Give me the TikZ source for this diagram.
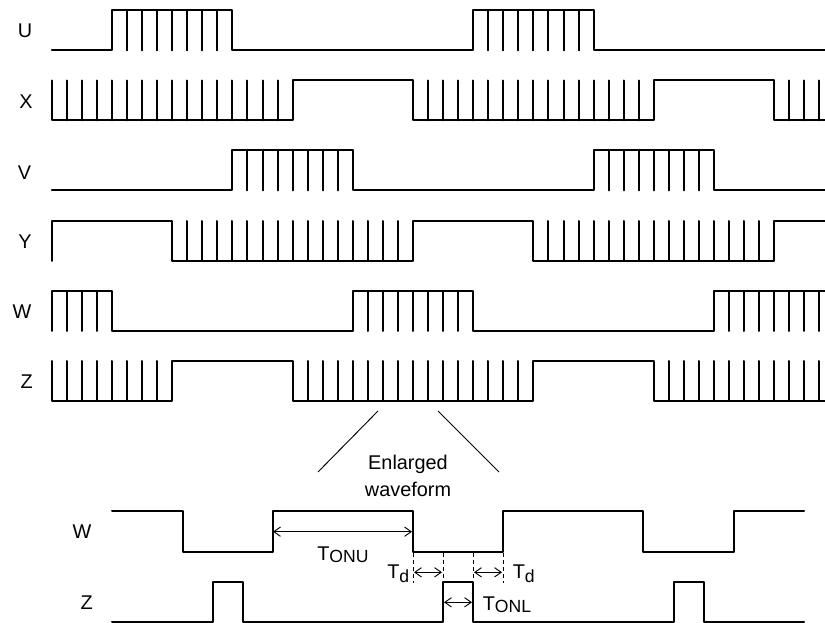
\documentclass[tikz,border=0pt]{standalone}
\usepackage{fontspec}
\setmainfont{Liberation Sans}
\usetikzlibrary{arrows.meta}
\newcommand{\tcks}[3]{\foreach \i in {#1} {\draw[wave] (\i,#2) -- (\i,#3);}}
\newcommand{\sigtext}[2]{T\raisebox{-#1}{\fontsize{13.2pt}{14pt}\selectfont #2}}
\tikzset{
  wave/.style={line width=1.5pt, line join=round, line cap=round, black},
  thinl/.style={line width=0.7pt, black},
  dimarrow/.style={line width=0.7pt, black, {Straight Barb[length=5pt,width=7pt]}-{Straight Barb[length=5pt,width=7pt]}},
  dashl/.style={line width=0.75pt, black, dash pattern=on 3pt off 2.25pt},
  lab/.style={font=\fontsize{14.9pt}{17pt}\selectfont, inner sep=0pt, text=black, anchor=center},
  pxunits/.style={x=0.75pt, y=-0.75pt},
  timeunits/.style={x=11.2875pt, y=-0.75pt, xshift=38.85pt}
}
\begin{document}
\begin{tikzpicture}[pxunits]
\useasboundingbox (0,0) rectangle (825,623);

% labels
\node[lab] (lU) at (25,31) {U};
\node[lab] (lX) at (26,101.5) {X};
\node[lab] (lV) at (24.5,172.5) {V};
\node[lab] (lY) at (25,241.5) {Y};
\node[lab] (lW) at (22,311.5) {W};
\node[lab] (lZ) at (26.7,381.5) {Z};
\node[lab] (lW2) at (82,531.5) {W};
\node[lab] (lZ2) at (86.7,602.5) {Z};
\node[lab, anchor=base] (enl) at (408,469.3) {Enlarged};
\node[lab, anchor=base] (wvf) at (408,496.7) {waveform};

\begin{scope}[timeunits]
\clip (-1,-5) rectangle (51.4,420);
% U
\draw[wave] (0,50.5) -- (4,50.5) -- (4,10.5) -- (12,10.5) -- (12,50.5) -- (28,50.5) -- (28,10.5) -- (36,10.5) -- (36,50.5) -- (52,50.5);
\tcks{5,...,11,29,30,...,35}{10.5}{50.5}
% X
\draw[wave] (0,80.5) -- (0,120.5) -- (16,120.5) -- (16,80.5) -- (24,80.5) -- (24,120.5) -- (40,120.5) -- (40,80.5) -- (48,80.5) -- (48,120.5) -- (52,120.5);
\tcks{1,...,15,25,26,...,39,49,50,51}{80.5}{120.5}
% V
\draw[wave] (0,190.5) -- (12,190.5) -- (12,150.5) -- (20,150.5) -- (20,190.5) -- (36,190.5) -- (36,150.5) -- (44,150.5) -- (44,190.5) -- (52,190.5);
\tcks{13,...,19,37,38,...,43}{150.5}{190.5}
% Y
\draw[wave] (0,261) -- (0,221) -- (8,221) -- (8,261) -- (24,261) -- (24,221) -- (32,221) -- (32,261) -- (48,261) -- (48,221) -- (52,221);
\tcks{9,10,...,23,33,34,...,47}{221}{261}
% W
\draw[wave] (0,331) -- (0,291) -- (4,291) -- (4,331) -- (20,331) -- (20,291) -- (28,291) -- (28,331) -- (44,331) -- (44,291) -- (52,291);
\tcks{1,2,3,21,22,...,27,45,46,...,51}{291}{331}
% Z
\draw[wave] (0,361) -- (0,401) -- (8,401) -- (8,361) -- (16,361) -- (16,401) -- (32,401) -- (32,361) -- (40,361) -- (40,401) -- (52,401);
\tcks{1,2,...,7,17,18,...,31,41,42,...,51}{361}{401}
\end{scope}

% zoom lines
\coordinate (a1) at (378,411);
\coordinate (a2) at (318,472);
\coordinate (b1) at (438,411);
\coordinate (b2) at (499,472);
\draw[thinl] (a1) -- (a2);
\draw[thinl] (b1) -- (b2);

% enlarged W and Z
\draw[wave] (112,511.5) -- (183,511.5) -- (183,551.5) -- (273,551.5) -- (273,511.5) -- (413,511.5) -- (413,551.5) -- (503,551.5) -- (503,511.5) -- (643,511.5) -- (643,551.5) -- (734,551.5) -- (734,511.5) -- (804,511.5);
\draw[wave] (112,621.5) -- (213,621.5) -- (213,581.5) -- (243,581.5) -- (243,621.5) -- (443,621.5) -- (443,581.5) -- (473,581.5) -- (473,621.5) -- (674,621.5) -- (674,581.5) -- (704,581.5) -- (704,621.5) -- (804,621.5);

% dashed guides
\coordinate (d1t) at (413,553); \coordinate (d1b) at (413,583);
\coordinate (d2t) at (443,553); \coordinate (d2b) at (443,581);
\coordinate (d3t) at (473,553); \coordinate (d3b) at (473,581);
\coordinate (d4t) at (503,553); \coordinate (d4b) at (503,583);
\draw[dashl] (d1t) -- (d1b);
\draw[dashl] (d2t) -- (d2b);
\draw[dashl] (d3t) -- (d3b);
\draw[dashl] (d4t) -- (d4b);

% dimensions
\coordinate (t1) at (273,531.7); \coordinate (t2) at (412,531.7);
\draw[dimarrow] (t1) -- (t2);
\coordinate (t3) at (414,572.3); \coordinate (t4) at (442,572.3);
\draw[dimarrow] (t3) -- (t4);
\coordinate (t5) at (474,572.3); \coordinate (t6) at (502,572.3);
\draw[dimarrow] (t5) -- (t6);
\coordinate (t7) at (444,602.3); \coordinate (t8) at (472,602.3);
\draw[dimarrow] (t7) -- (t8);

\node[lab, anchor=base west] (tonu) at (317,560) {\sigtext{2.2pt}{ONU}};
\node[lab, anchor=base west] (td1) at (387,578) {\sigtext{3.4pt}{d}};
\node[lab, anchor=base west] (td2) at (512.5,578) {\sigtext{3.4pt}{d}};
\node[lab, anchor=base west] (tonl) at (482.5,610) {\sigtext{2.2pt}{ONL}};
\end{tikzpicture}
\end{document}
